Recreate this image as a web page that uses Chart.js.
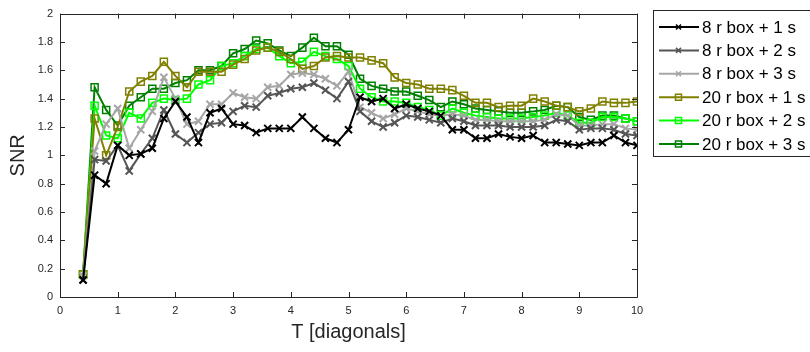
<!DOCTYPE html>
<html>
<head>
<meta charset="utf-8">
<script src="https://cdn.jsdelivr.net/npm/chart.js@4"></script>
<style>
  html, body { margin: 0; padding: 0; background: #fff; }
  #wrap { width: 810px; height: 352px; }
</style>
</head>
<body>
<div id="wrap"><canvas id="myChart" width="810" height="352"></canvas></div>
<script>
// T values (diagonals)
const tValues = [0.4, 0.6, 0.8, 1.0, 1.2, 1.4, 1.6, 1.8, 2.0, 2.2, 2.4, 2.6, 2.8, 3.0, 3.2, 3.4, 3.6, 3.8, 4.0, 4.2,
    4.4, 4.6, 4.8, 5.0, 5.2, 5.4, 5.6, 5.8, 6.0, 6.2, 6.4, 6.6, 6.8, 7.0, 7.2, 7.4, 7.6, 7.8, 8.0, 8.2,
    8.4, 8.6, 8.8, 9.0, 9.2, 9.4, 9.6, 9.8, 10.0];

const labels = ['8 r box + 1 s', '8 r box + 2 s', '8 r box + 3 s', '20 r box + 1 s', '20 r box + 2 s', '20 r box + 3 s'];

const snr8r1s = [0.12, 0.86, 0.80, 1.07, 1.00, 1.01, 1.05, 1.26, 1.38, 1.27, 1.09, 1.30, 1.33, 1.22, 1.21, 1.16, 1.19, 1.19, 1.19, 1.27,
    1.19, 1.12, 1.09, 1.18, 1.41, 1.38, 1.40, 1.33, 1.36, 1.33, 1.31, 1.28, 1.18, 1.18, 1.12, 1.12, 1.15, 1.13, 1.12, 1.14,
    1.09, 1.09, 1.08, 1.07, 1.09, 1.09, 1.14, 1.09, 1.07];
const snr8r2s = [0.12, 0.97, 0.96, 1.07, 0.89, 1.01, 1.12, 1.32, 1.15, 1.09, 1.16, 1.22, 1.23, 1.31, 1.35, 1.34, 1.42, 1.44, 1.47, 1.48,
    1.51, 1.46, 1.40, 1.52, 1.31, 1.24, 1.20, 1.23, 1.28, 1.27, 1.25, 1.23, 1.26, 1.24, 1.21, 1.21, 1.21, 1.20, 1.20, 1.20,
    1.21, 1.25, 1.24, 1.18, 1.19, 1.19, 1.18, 1.15, 1.14];
const snr8r3s = [0.15, 1.03, 1.22, 1.33, 1.05, 1.18, 1.31, 1.55, 1.40, 1.22, 1.24, 1.36, 1.36, 1.44, 1.41, 1.40, 1.48, 1.49, 1.57, 1.58,
    1.57, 1.54, 1.49, 1.59, 1.34, 1.30, 1.26, 1.29, 1.33, 1.31, 1.29, 1.28, 1.29, 1.28, 1.25, 1.25, 1.24, 1.24, 1.24, 1.24,
    1.25, 1.29, 1.28, 1.21, 1.21, 1.22, 1.22, 1.19, 1.18];
const snr20r1s = [0.16, 1.26, 1.00, 1.20, 1.45, 1.52, 1.56, 1.66, 1.56, 1.48, 1.59, 1.59, 1.59, 1.64, 1.68, 1.74, 1.76, 1.73, 1.68, 1.61,
    1.63, 1.69, 1.70, 1.69, 1.69, 1.67, 1.65, 1.55, 1.51, 1.50, 1.47, 1.47, 1.46, 1.42, 1.37, 1.37, 1.34, 1.35, 1.35, 1.40,
    1.38, 1.35, 1.34, 1.31, 1.33, 1.38, 1.37, 1.37, 1.38];
const snr20r2s = [0.16, 1.35, 1.14, 1.12, 1.30, 1.26, 1.37, 1.40, 1.39, 1.40, 1.50, 1.53, 1.63, 1.65, 1.70, 1.75, 1.76, 1.70, 1.65, 1.66,
    1.73, 1.70, 1.68, 1.63, 1.47, 1.41, 1.38, 1.38, 1.37, 1.34, 1.32, 1.28, 1.33, 1.30, 1.28, 1.27, 1.26, 1.26, 1.26, 1.27,
    1.28, 1.30, 1.28, 1.23, 1.23, 1.27, 1.27, 1.26, 1.24];
const snr20r3s = [0.16, 1.48, 1.32, 1.21, 1.35, 1.41, 1.47, 1.47, 1.51, 1.53, 1.60, 1.60, 1.63, 1.72, 1.75, 1.81, 1.79, 1.74, 1.70, 1.76,
    1.83, 1.77, 1.77, 1.71, 1.54, 1.49, 1.47, 1.45, 1.45, 1.42, 1.39, 1.34, 1.38, 1.36, 1.33, 1.32, 1.31, 1.30, 1.30, 1.31,
    1.32, 1.35, 1.34, 1.27, 1.25, 1.28, 1.28, 1.26, 1.24];

const xTicks = [0, 1, 2, 3, 4, 5, 6, 7, 8, 9, 10];
const yTicks = [0, 0.2, 0.4, 0.6, 0.8, 1, 1.2, 1.4, 1.6, 1.8, 2];

const series = [snr8r1s, snr8r2s, snr8r3s, snr20r1s, snr20r2s, snr20r3s];
const colors = ['#000000', '#555555', '#a6a6a6', '#808000', '#00ff00', '#008000'];
const markers = ['crossRot', 'crossRot', 'crossRot', 'rect', 'rect', 'rect'];

const FONT = '"Liberation Sans", Arial, sans-serif';
const AXIS_COLOR = '#262626';

const datasets = series.map((vals, i) => ({
    label: labels[i],
    data: vals.map((v, k) => ({ x: tValues[k], y: v })),
    borderColor: colors[i],
    backgroundColor: 'rgba(0,0,0,0)',
    borderWidth: 2,
    pointStyle: markers[i],
    pointRadius: 5,
    pointBorderWidth: markers[i] === 'rect' ? 1.5 : 2,
    pointBorderColor: colors[i],
    pointBackgroundColor: 'rgba(0,0,0,0)',
    tension: 0,
    fill: false
}));

// box, inward ticks and legend in MATLAB style
const matlabAxes = {
    id: 'matlabAxes',
    afterDraw(chart) {
        const ctx = chart.ctx;
        const { left, right, top, bottom } = chart.chartArea;
        const xs = chart.scales.x, ys = chart.scales.y;
        const tl = 5;
        ctx.save();
        ctx.strokeStyle = AXIS_COLOR;
        ctx.lineWidth = 1;
        ctx.beginPath();
        ctx.rect(Math.round(left) + 0.5, Math.round(top) + 0.5, Math.round(right - left), Math.round(bottom - top));
        xTicks.forEach(t => {
            const px = Math.round(xs.getPixelForValue(t)) + 0.5;
            ctx.moveTo(px, bottom); ctx.lineTo(px, bottom - tl);
            ctx.moveTo(px, top); ctx.lineTo(px, top + tl);
        });
        yTicks.forEach(t => {
            const py = Math.round(ys.getPixelForValue(t)) + 0.5;
            ctx.moveTo(left, py); ctx.lineTo(left + tl, py);
            ctx.moveTo(right, py); ctx.lineTo(right - tl, py);
        });
        ctx.stroke();

        // legend (box runs past the right edge, as in the original)
        const lx = 653, ly = 10, lw = 170, lh = 146;
        ctx.fillStyle = '#fff';
        ctx.fillRect(lx, ly, lw, lh);
        ctx.strokeStyle = '#262626';
        ctx.strokeRect(lx + 0.5, ly + 0.5, lw, lh);
        ctx.font = '17px ' + FONT;
        ctx.textBaseline = 'middle';
        ctx.textAlign = 'left';
        labels.forEach((lab, i) => {
            const y = 27 + i * 23.4;
            ctx.strokeStyle = colors[i];
            ctx.lineWidth = 2;
            ctx.beginPath();
            ctx.moveTo(659, y); ctx.lineTo(699, y);
            ctx.stroke();
            ctx.lineWidth = 1.5;
            ctx.beginPath();
            if (markers[i] === 'rect') {
                ctx.rect(675.5, y - 3, 6, 6);
            } else {
                ctx.moveTo(676, y - 2.5); ctx.lineTo(681, y + 2.5);
                ctx.moveTo(681, y - 2.5); ctx.lineTo(676, y + 2.5);
            }
            ctx.stroke();
            ctx.fillStyle = '#000';
            ctx.fillText(lab, 702, y + 1);
        });
        ctx.restore();
    }
};

new Chart(document.getElementById('myChart'), {
    type: 'line',
    data: { datasets: datasets },
    options: {
        responsive: false,
        animation: false,
        layout: { padding: { left: 0, right: 173, top: 10, bottom: 6 } },
        plugins: {
            legend: { display: false },
            tooltip: { enabled: false }
        },
        scales: {
            x: {
                type: 'linear',
                min: 0,
                max: 10,
                afterFit: (scale) => { scale.height = 49; },
                afterBuildTicks: (scale) => { scale.ticks = xTicks.map(v => ({ value: v })); },
                grid: { display: false, drawTicks: false },
                border: { display: false },
                ticks: {
                    padding: 7,
                    color: AXIS_COLOR,
                    font: { family: FONT, size: 11 },
                    maxRotation: 0,
                    callback: (v) => String(v)
                },
                title: {
                    display: true,
                    text: 'T [diagonals]',
                    color: AXIS_COLOR,
                    font: { family: FONT, size: 20 },
                    padding: { top: 0, bottom: 2 }
                }
            },
            y: {
                min: 0,
                max: 2,
                afterFit: (scale) => { scale.width = 60; },
                afterBuildTicks: (scale) => { scale.ticks = yTicks.map(v => ({ value: v })); },
                grid: { display: false, drawTicks: false },
                border: { display: false },
                ticks: {
                    padding: 7,
                    color: AXIS_COLOR,
                    font: { family: FONT, size: 11 },
                    callback: (v) => String(Math.round(v * 10) / 10)
                },
                title: {
                    display: true,
                    text: 'SNR',
                    color: AXIS_COLOR,
                    font: { family: FONT, size: 20 },
                    padding: { top: 6, bottom: 0 }
                }
            }
        }
    },
    plugins: [matlabAxes]
});
</script>
</body>
</html>
